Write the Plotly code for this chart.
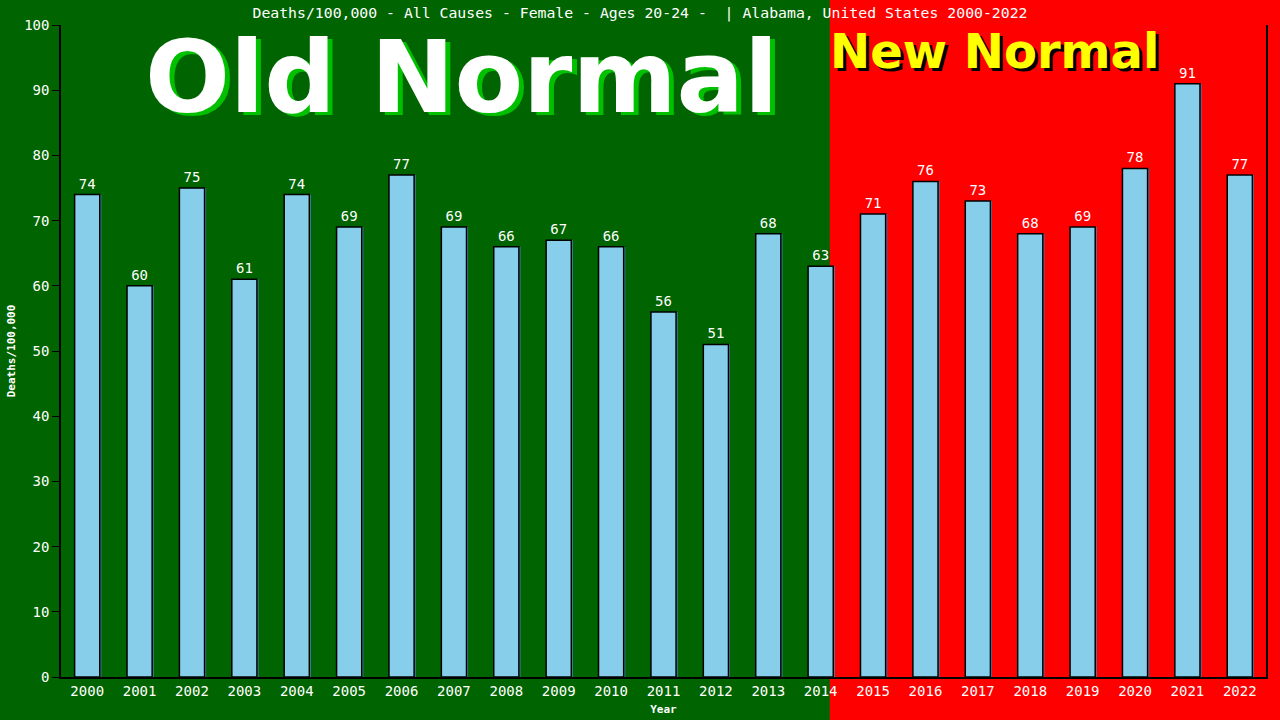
import plotly.graph_objects as go

years = [str(y) for y in range(2000, 2023)]
deaths = [74, 60, 75, 61, 74, 69, 77, 69, 66, 67, 66, 56, 51, 68, 63, 71, 76, 73, 68, 69, 78, 91, 77]
y_ticks = list(range(0, 101, 10))
title_text = "Deaths/100,000 - All Causes - Female - Ages 20-24 -  | Alabama, United States 2000-2022"

MONO = "DejaVu Sans Mono"
idx = list(range(len(years)))

fig = go.Figure()
# shadow edge of bars
fig.add_trace(go.Bar(
    x=idx, y=deaths, width=0.48, offset=-0.24 + 0.03,
    marker=dict(color="#4682B4", line=dict(width=0)),
    hoverinfo="skip", showlegend=False,
))
fig.add_trace(go.Bar(
    x=idx, y=deaths, width=0.48, offset=-0.24,
    marker=dict(color="#87CEEB", line=dict(color="black", width=1.5)),
    text=[str(v) for v in deaths], textposition="outside",
    textfont=dict(family=MONO, size=14, color="white"),
    cliponaxis=False, showlegend=False,
))

# backgrounds
fig.add_shape(type="rect", xref="paper", yref="paper", x0=-0.2, x1=0.638, y0=-0.3, y1=1.3,
              fillcolor="#006400", line=dict(width=0), layer="below")

# Old Normal / New Normal labels (shadow then text)
fig.add_annotation(xref="paper", yref="paper", x=0.332, y=0.92, text="<b>Old Normal</b>",
                   showarrow=False, xanchor="center", yanchor="middle", xshift=5, yshift=-3,
                   font=dict(family="DejaVu Sans", size=100, color="#00C000"))
fig.add_annotation(xref="paper", yref="paper", x=0.332, y=0.92, text="<b>Old Normal</b>",
                   showarrow=False, xanchor="center", yanchor="middle",
                   font=dict(family="DejaVu Sans", size=100, color="white"))
fig.add_annotation(xref="paper", yref="paper", x=0.775, y=0.96, text="<b>New Normal</b>",
                   showarrow=False, xanchor="center", yanchor="middle", xshift=3, yshift=-3,
                   font=dict(family="DejaVu Sans", size=48, color="black"))
fig.add_annotation(xref="paper", yref="paper", x=0.775, y=0.96, text="<b>New Normal</b>",
                   showarrow=False, xanchor="center", yanchor="middle",
                   font=dict(family="DejaVu Sans", size=48, color="#FFFF00"))

fig.update_layout(
    width=1280, height=720,
    margin=dict(l=61, r=14, t=25, b=43),
    paper_bgcolor="#FF0000", plot_bgcolor="rgba(0,0,0,0)",
    barmode="overlay",
    title=dict(text=title_text, x=0.5, xanchor="center", y=0.982, yanchor="middle",
               font=dict(family=MONO, size=14.8, color="white")),
    xaxis=dict(range=[-0.5, 22.5], tickmode="array", tickvals=idx, ticktext=years,
               automargin=False,
               showgrid=False, zeroline=False, showline=True, linecolor="black", linewidth=1.5,
               ticks="", tickfont=dict(family=MONO, size=14, color="white"),
               title=dict(text="<b>Year</b>", font=dict(family=MONO, size=11, color="white"), standoff=8)),
    yaxis=dict(range=[0, 100], tickmode="array", tickvals=y_ticks,
               automargin=False,
               showgrid=False, zeroline=False, showline=True, linecolor="black", linewidth=1.5,
               mirror=True, ticks="outside", ticklen=7, tickcolor="black",
               tickfont=dict(family=MONO, size=14, color="white"),
               title=dict(text="<b>Deaths/100,000</b>", font=dict(family=MONO, size=11, color="white"), standoff=6)),
)

fig.write_html("out.html", config={"displayModeBar": False},
               post_script="document.body.style.margin='0px';document.body.style.overflow='hidden';")
